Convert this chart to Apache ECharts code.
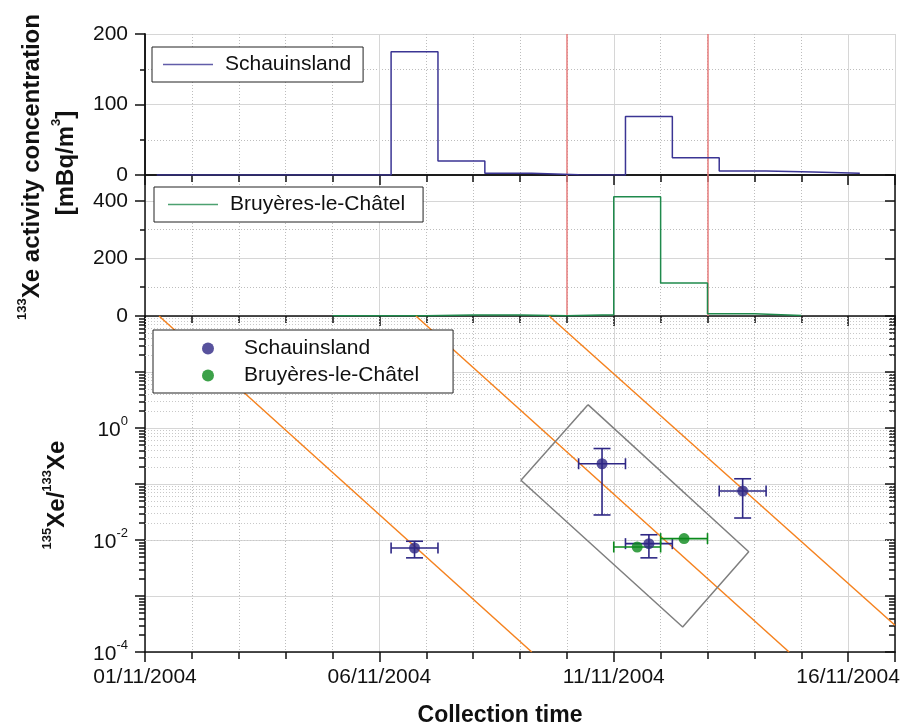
<!DOCTYPE html>
<html>
<head>
  <meta charset="utf-8">
  <title>Xe ratio</title>
  <script src="https://cdn.jsdelivr.net/npm/echarts@6/dist/echarts.min.js"></script>
  <style>
    html, body { margin: 0; padding: 0; background: #fff; }
    #main { width: 903px; height: 727px; }
  </style>
</head>
<body>
  <div id="main"></div>
  <script>
    // x axis is in days after 01/11/2004 00:00
    var xTickDays = [0, 5, 10, 15];
    var xTickLabels = ['01/11/2004', '06/11/2004', '11/11/2004', '16/11/2004'];

    // 133Xe activity concentration [mBq/m3]; day = start of sample, last entry closes the last sample
    var schauDays = [0.25, 1.25, 2.25, 3.25, 4.25, 5.25, 6.25, 7.25, 8.25, 9.25, 10.25, 11.25, 12.25, 13.25, 14.25, 15.25];
    var schauConc = [0, 0, 0, 0, 0, 175, 20, 2.4, 0.5, 0, 83, 24.5, 5.7, 4.3, 2.4, 2.4];
    var bruyDays = [4, 5, 6, 7, 8, 9, 10, 11, 12, 13, 14];
    var bruyConc = [0.5, 0.5, 3.5, 3.5, 0.5, 4, 414, 115, 8, 2, 2];

    // red markers (days)
    var markerDays = [9, 12];

    // 135Xe/133Xe ratios
    var schauRatioDays = [5.75, 9.75, 10.75, 12.75];
    var schauDayErr = [0.5, 0.5, 0.5, 0.5];
    var schauRatio = [0.0072, 0.23, 0.0086, 0.075];
    var schauRatioLow = [0.0048, 0.028, 0.0048, 0.0247];
    var schauRatioHigh = [0.0095, 0.43, 0.0124, 0.124];
    var bruyRatioDays = [10.5, 11.5];
    var bruyDayErr = [0.5, 0.5];
    var bruyRatio = [0.0075, 0.0106];

    // decay lines (start / end points)
    var decayStartDays = [0.30, 5.78, 8.62];
    var decayStartRatio = [100, 100, 100];
    var decayEndDays = [8.25, 13.74, 16];
    var decayEndRatio = [1e-4, 1e-4, 3.0e-4];

    // box around the event
    var boxDays = [9.45, 12.88, 11.47, 8.02, 9.45];
    var boxRatio = [2.61, 0.00618, 0.000279, 0.1164, 2.61];

    var blueLine = '#3b3594', greenLine = '#1f8a4c';
    var blueDot = '#2e2785', greenDot = '#0b8a1c';
    var orange = '#f5821f', red = '#e67c7c', boxColor = '#7f7f7f';
    var font = 'Liberation Sans, Arial, sans-serif';
    var axisLineStyle = { color: '#111', width: 1.5 };
    var solidGrid = { color: '#d6d6d6', width: 1, type: 'solid' };
    var dottedGrid = { color: '#bdbdbd', width: 1, type: [1, 2] };
    var minorLogGrid = { color: '#c8c8c8', width: 1, type: [1, 2] };

    // minor log ticks 2..9 per decade
    var minorLog = [];
    for (var e = -4; e < 2; e++) {
      for (var k = 2; k <= 9; k++) minorLog.push(+(k * Math.pow(10, e)).toPrecision(3));
    }

    function zip(a, b) {
      return a.map(function (v, i) { return [v, b[i]]; });
    }

    function xAxis(grid, pos, interval, tickLen, inside, extra) {
      return Object.assign({
        type: 'value', gridIndex: grid, position: pos, min: 0, max: 16, interval: interval,
        axisLine: { show: false },
        axisTick: { show: true, inside: inside, length: tickLen, lineStyle: axisLineStyle },
        axisLabel: { show: false },
        splitLine: { show: false }
      }, extra || {});
    }

    function yAxis(grid, pos, min, max, interval, tickLen, inside, extra) {
      return Object.assign({
        type: 'value', gridIndex: grid, position: pos, min: min, max: max, interval: interval,
        axisLine: { show: false },
        axisTick: { show: true, inside: inside, length: tickLen, lineStyle: axisLineStyle },
        axisLabel: { show: false },
        splitLine: { show: false }
      }, extra || {});
    }

    function logAxis(pos, tickLen, inside, extra) {
      return Object.assign({
        type: 'log', logBase: 10, gridIndex: 2, position: pos, min: 1e-4, max: 1e2, splitNumber: 6,
        axisLine: { show: false },
        axisTick: { show: true, inside: inside, length: tickLen, lineStyle: axisLineStyle },
        axisLabel: { show: false },
        splitLine: { show: false }
      }, extra || {});
    }

    var mainLine = { show: true, lineStyle: axisLineStyle };
    var yLabel = function (step, top) {
      return {
        show: true, margin: 17, fontFamily: font, fontSize: 21, color: '#111',
        formatter: function (v) { return (v % step === 0 && v <= top) ? String(v) : ''; }
      };
    };

    function errorBars(color) {
      return function (params, api) {
        var x = api.value(0), y = api.value(1), dx = api.value(2), lo = api.value(3), hi = api.value(4);
        var l = api.coord([x - dx, y]), r = api.coord([x + dx, y]);
        var style = { stroke: color, lineWidth: 1.6, fill: null };
        var kids = [
          { type: 'line', shape: { x1: l[0], y1: l[1], x2: r[0], y2: r[1] }, style: style },
          { type: 'line', shape: { x1: l[0], y1: l[1] - 5.5, x2: l[0], y2: l[1] + 5.5 }, style: style },
          { type: 'line', shape: { x1: r[0], y1: r[1] - 5.5, x2: r[0], y2: r[1] + 5.5 }, style: style }
        ];
        if (hi > lo) {
          var t = api.coord([x, hi]), b = api.coord([x, lo]);
          kids.push(
            { type: 'line', shape: { x1: t[0], y1: t[1], x2: b[0], y2: b[1] }, style: style },
            { type: 'line', shape: { x1: t[0] - 8.5, y1: t[1], x2: t[0] + 8.5, y2: t[1] }, style: style },
            { type: 'line', shape: { x1: b[0] - 8.5, y1: b[1], x2: b[0] + 8.5, y2: b[1] }, style: style }
          );
        }
        return { type: 'group', children: kids };
      };
    }

    var markerLines = {
      silent: true, symbol: 'none', label: { show: false }, z: 2,
      lineStyle: { color: red, width: 1.5, type: 'solid' },
      data: markerDays.map(function (d) { return { xAxis: d }; })
    };

    var decaySeries = decayStartDays.map(function (d, i) {
      return {
        type: 'line', name: 'decay' + i, xAxisIndex: 7, yAxisIndex: 9, symbol: 'none', z: 3,
        lineStyle: { color: orange, width: 1.5 },
        data: [[d, decayStartRatio[i]], [decayEndDays[i], decayEndRatio[i]]]
      };
    });

    var legendBase = {
      selectedMode: false, borderColor: '#222', borderWidth: 1, backgroundColor: '#fff', z: 6,
      itemStyle: { borderWidth: 0 },
      textStyle: { fontFamily: font, fontSize: 21, color: '#111', padding: [0, 0, 0, 7] }
    };

    function legendItem(name, icon, color) {
      return { name: name, icon: icon, itemStyle: { color: color, borderWidth: 0 } };
    }

    var myChart = echarts.init(document.getElementById('main'));
    var option = {
      animation: false,
      grid: [
        { left: 145, right: 8, top: 34, height: 141 },
        { left: 145, right: 8, top: 175, height: 141 },
        { left: 145, right: 8, top: 316, height: 336 }
      ],
      legend: [
        Object.assign({}, legendBase, {
          data: [legendItem('Schauinsland', 'rect', blueLine)],
          left: 152, top: 47, itemWidth: 50, itemHeight: 1.5, padding: [7, 12, 7, 11]
        }),
        Object.assign({}, legendBase, {
          data: [legendItem('Bruyères-le-Châtel', 'rect', greenLine)],
          left: 154, top: 187, itemWidth: 50, itemHeight: 1.5, padding: [7, 18, 7, 14]
        }),
        Object.assign({}, legendBase, {
          data: [legendItem('Schauinsland', 'circle', blueDot), legendItem('Bruyères-le-Châtel', 'circle', greenDot)],
          orient: 'vertical', left: 153, top: 330, itemWidth: 12, itemHeight: 12, itemGap: 6,
          padding: [8, 34, 7, 49],
          textStyle: { fontFamily: font, fontSize: 21, color: '#111', padding: [0, 0, 0, 25] }
        })
      ],
      xAxis: [
        xAxis(0, 'bottom', 1, 7, false, { splitLine: { show: true, lineStyle: dottedGrid } }),
        xAxis(0, 'bottom', 5, 10, false, { axisLine: mainLine, splitLine: { show: true, lineStyle: solidGrid } }),
        xAxis(0, 'top', 1, 5, true),
        xAxis(0, 'top', 5, 9, true, { axisLine: mainLine }),
        xAxis(1, 'bottom', 1, 7, false, { splitLine: { show: true, lineStyle: dottedGrid } }),
        xAxis(1, 'bottom', 5, 10, false, { axisLine: mainLine, splitLine: { show: true, lineStyle: solidGrid } }),
        xAxis(2, 'bottom', 1, 7, false, { splitLine: { show: true, lineStyle: dottedGrid } }),
        xAxis(2, 'bottom', 5, 10, false, {
          axisLine: mainLine, splitLine: { show: true, lineStyle: solidGrid },
          axisLabel: {
            show: true, margin: 15, fontFamily: font, fontSize: 21, color: '#111',
            formatter: function (v) {
              var i = xTickDays.indexOf(v);
              return i >= 0 ? xTickLabels[i] : '';
            }
          }
        })
      ],
      yAxis: [
        yAxis(0, 'left', 0, 200, 50, 5, false, { splitLine: { show: true, lineStyle: dottedGrid } }),
        yAxis(0, 'left', 0, 200, 100, 10, false, { axisLine: mainLine, splitLine: { show: true, lineStyle: solidGrid }, axisLabel: yLabel(100, 200) }),
        yAxis(0, 'right', 0, 200, 50, 5, true),
        yAxis(0, 'right', 0, 200, 100, 10, true, { axisLine: mainLine }),
        yAxis(1, 'left', 0, 490, 100, 5, false, { splitLine: { show: true, lineStyle: dottedGrid } }),
        yAxis(1, 'left', 0, 490, 200, 10, false, { axisLine: mainLine, splitLine: { show: true, lineStyle: solidGrid }, axisLabel: yLabel(200, 400) }),
        yAxis(1, 'right', 0, 490, 100, 5, true),
        yAxis(1, 'right', 0, 490, 200, 10, true, { axisLine: mainLine }),
        logAxis('left', 6, false, { axisTick: { show: true, length: 6, lineStyle: axisLineStyle, customValues: minorLog } }),
        logAxis('left', 10, false, {
          axisLine: mainLine, splitLine: { show: true, lineStyle: solidGrid },
          axisLabel: {
            show: true, margin: 17, fontFamily: font, color: '#111',
            formatter: function (v) {
              var ex = Math.round(Math.log10(v));
              return (ex % 2 === 0 && ex < 2) ? '{b|10}{s|' + ex + '}' : '';
            },
            rich: {
              b: { fontFamily: font, fontSize: 21, color: '#111', lineHeight: 26, verticalAlign: 'bottom' },
              s: { fontFamily: font, fontSize: 13, color: '#111', verticalAlign: 'top', lineHeight: 26 }
            }
          }
        }),
        logAxis('right', 6, true, { axisTick: { show: true, inside: true, length: 6, lineStyle: axisLineStyle, customValues: minorLog } }),
        logAxis('right', 10, true, { axisLine: mainLine })
      ],
      series: [
        {
          type: 'scatter', name: 'Schauinsland', xAxisIndex: 7, yAxisIndex: 9, z: 5,
          symbolSize: 11, itemStyle: { color: blueDot },
          data: zip(schauRatioDays, schauRatio)
        },
        {
          type: 'scatter', name: 'Bruyères-le-Châtel', xAxisIndex: 7, yAxisIndex: 9, z: 5,
          symbolSize: 11, itemStyle: { color: greenDot },
          data: zip(bruyRatioDays, bruyRatio)
        },
        {
          type: 'line', name: 'Schauinsland', xAxisIndex: 1, yAxisIndex: 1, step: 'end', symbol: 'none',
          lineStyle: { color: blueLine, width: 1.5 }, itemStyle: { color: blueLine },
          data: zip(schauDays, schauConc), markLine: markerLines
        },
        {
          type: 'line', name: 'Bruyères-le-Châtel', xAxisIndex: 5, yAxisIndex: 5, step: 'end', symbol: 'none',
          lineStyle: { color: greenLine, width: 1.5 }, itemStyle: { color: greenLine },
          data: zip(bruyDays, bruyConc), markLine: markerLines
        },
        {
          type: 'line', name: 'minorGrid', xAxisIndex: 7, yAxisIndex: 9, data: [], z: 1,
          markLine: {
            silent: true, symbol: 'none', label: { show: false }, z: 1,
            lineStyle: minorLogGrid,
            data: minorLog.map(function (v) { return { yAxis: v }; })
          }
        }
      ].concat(decaySeries, [
        {
          type: 'line', name: 'box', xAxisIndex: 7, yAxisIndex: 9, symbol: 'none', z: 3,
          lineStyle: { color: boxColor, width: 1.5 },
          data: zip(boxDays, boxRatio)
        },
        {
          type: 'custom', name: 'errS', xAxisIndex: 7, yAxisIndex: 9, z: 4,
          renderItem: errorBars(blueDot), encode: { x: 0, y: 1 },
          data: schauRatioDays.map(function (d, i) { return [d, schauRatio[i], schauDayErr[i], schauRatioLow[i], schauRatioHigh[i]]; })
        },
        {
          type: 'custom', name: 'errB', xAxisIndex: 7, yAxisIndex: 9, z: 4,
          renderItem: errorBars(greenDot), encode: { x: 0, y: 1 },
          data: bruyRatioDays.map(function (d, i) { return [d, bruyRatio[i], bruyDayErr[i], bruyRatio[i], bruyRatio[i]]; })
        }
      ]),
      graphic: [
        {
          type: 'text', x: 30, y: 167, rotation: Math.PI / 2,
          style: {
            text: '{s|133}{b|Xe activity concentration}', align: 'center', verticalAlign: 'middle',
            rich: {
              b: { fontFamily: font, fontSize: 24, fontWeight: 'bold', fill: '#111', lineHeight: 28, verticalAlign: 'bottom' },
              s: { fontFamily: font, fontSize: 13, fontWeight: 'bold', fill: '#111', lineHeight: 28, verticalAlign: 'top' }
            }
          }
        },
        {
          type: 'text', x: 64, y: 163, rotation: Math.PI / 2,
          style: {
            text: '{b|[mBq/m}{s|3}{b|]}', align: 'center', verticalAlign: 'middle',
            rich: {
              b: { fontFamily: font, fontSize: 24, fontWeight: 'bold', fill: '#111', lineHeight: 28, verticalAlign: 'bottom' },
              s: { fontFamily: font, fontSize: 13, fontWeight: 'bold', fill: '#111', lineHeight: 28, verticalAlign: 'top' }
            }
          }
        },
        {
          type: 'text', x: 55, y: 495, rotation: Math.PI / 2,
          style: {
            text: '{s|135}{b|Xe/}{s|133}{b|Xe}', align: 'center', verticalAlign: 'middle',
            rich: {
              b: { fontFamily: font, fontSize: 24, fontWeight: 'bold', fill: '#111', lineHeight: 28, verticalAlign: 'bottom' },
              s: { fontFamily: font, fontSize: 13, fontWeight: 'bold', fill: '#111', lineHeight: 28, verticalAlign: 'top' }
            }
          }
        },
        {
          type: 'text', x: 500, y: 716,
          style: {
            text: 'Collection time', align: 'center', verticalAlign: 'middle',
            fontFamily: font, fontSize: 23, fontWeight: 'bold', fill: '#111'
          }
        }
      ]
    };
    myChart.setOption(option);
  </script>
</body>
</html>
